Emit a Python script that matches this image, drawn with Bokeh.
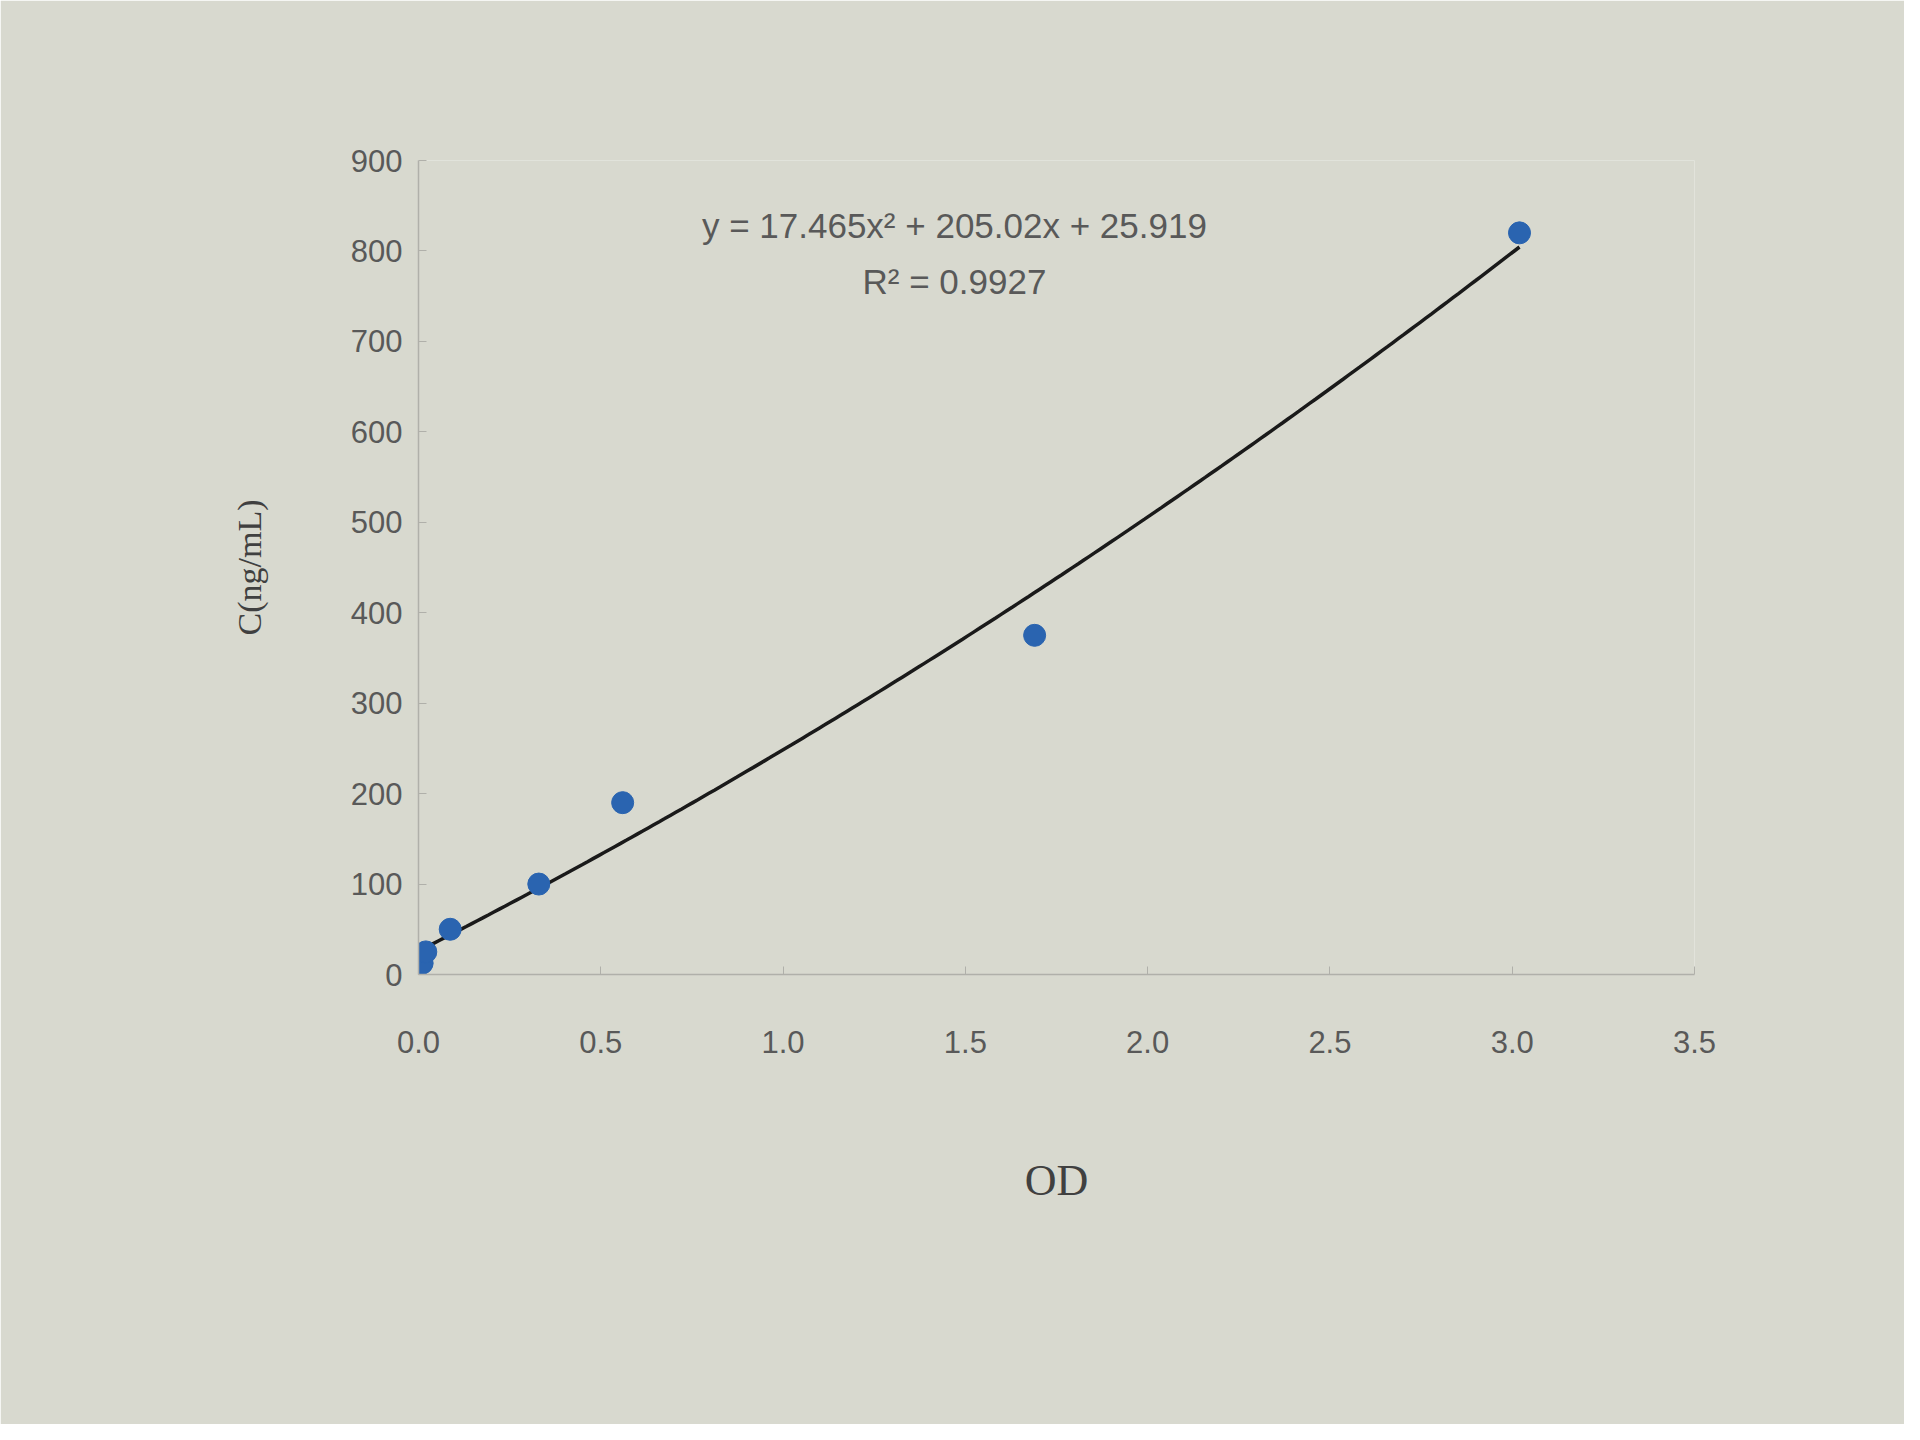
import numpy as np
from bokeh.plotting import figure
from bokeh.models import (ColumnDataSource, Label, FixedTicker,
                          NumeralTickFormatter)
from bokeh.embed import file_html
from bokeh.resources import INLINE

# ---- data ----
od = [0.01, 0.02, 0.087, 0.33, 0.56, 1.69, 3.02]
conc = [12.5, 25, 50, 100, 190, 375, 820]

# trendline coefficients printed on the chart (y = a x^2 + b x + c)
coef_a = 17.465
coef_b = 205.02
coef_c = 25.919
eq_text = "y = 17.465x\u00b2 + 205.02x + 25.919"
r2_text = "R\u00b2 = 0.9927"

x_ticks = [0.0, 0.5, 1.0, 1.5, 2.0, 2.5, 3.0, 3.5]
y_ticks = [0, 100, 200, 300, 400, 500, 600, 700, 800, 900]
x_title = "OD"
y_title = "C(ng/mL)"

# ---- figure ----
TEXT = "#595959"
TICK_FONT = "Liberation Sans"
p = figure(width=1904, height=1424, output_backend="svg", toolbar_location=None,
           x_range=(0, 3.5), y_range=(0, 900),
           min_border_left=418, min_border_right=210,
           min_border_top=160, min_border_bottom=450)
p.border_fill_color = "#d8d9cf"
p.background_fill_color = "#d8d9cf"
p.outline_line_color = None
p.grid.visible = False

# trendline from the printed coefficients
xs = np.linspace(min(od), max(od), 200)
ys = coef_a * xs ** 2 + coef_b * xs + coef_c
p.line(xs, ys, line_color="#1a1a1a", line_width=3.5)

src = ColumnDataSource(dict(x=od, y=conc))
p.scatter("x", "y", source=src, size=22, fill_color="#2a64b0",
          line_color="#2a64b0")

# axes
for ax in (p.xaxis[0], p.yaxis[0]):
    ax.axis_line_color = "#b0b0aa"
    ax.axis_line_width = 1.5
    ax.major_tick_line_color = "#b0b0aa"
    ax.major_tick_in = 8
    ax.major_tick_out = 0
    ax.minor_tick_line_color = None
    ax.major_label_text_color = TEXT
    ax.major_label_text_font = TICK_FONT
    ax.major_label_text_font_size = "31px"
    ax.axis_label_text_color = "#404040"
    ax.axis_label_text_font = "Liberation Serif"
    ax.axis_label_text_font_style = "normal"

p.xaxis.ticker = FixedTicker(ticks=x_ticks)
p.xaxis.formatter = NumeralTickFormatter(format="0.0")
p.xaxis.major_label_standoff = 56
p.xaxis.axis_label = x_title
p.xaxis.axis_label_text_font_size = "44px"
p.xaxis.axis_label_standoff = 100

p.yaxis.ticker = FixedTicker(ticks=y_ticks)
p.yaxis.formatter = NumeralTickFormatter(format="0")
p.yaxis.major_label_standoff = 16
p.yaxis.axis_label = y_title
p.yaxis.axis_label_text_font_size = "34px"
p.yaxis.axis_label_standoff = 80

# equation labels
p.add_layout(Label(x=1.47, y=828, text=eq_text, text_align="center",
                   text_baseline="middle", text_color=TEXT,
                   text_font=TICK_FONT, text_font_size="35px"))
p.add_layout(Label(x=1.47, y=766, text=r2_text, text_align="center",
                   text_baseline="middle", text_color=TEXT,
                   text_font=TICK_FONT, text_font_size="35px"))

open("out.html", "w").write(file_html(p, INLINE))
